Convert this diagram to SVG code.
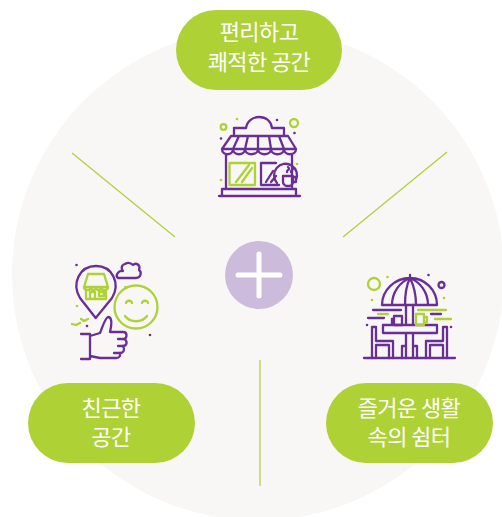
<svg xmlns="http://www.w3.org/2000/svg" width="502" height="517" viewBox="0 0 502 517">
<style>
.p{fill:none;stroke:#6a2f96;stroke-width:2.300;stroke-linecap:round;stroke-linejoin:round}
.g{fill:none;stroke:#aed136;stroke-width:2.300;stroke-linecap:round;stroke-linejoin:round}
.dp{fill:#6a2f96}.dg{fill:#aed136}
.pill{fill:#aed136}
.t{fill:#fff;font-family:"Noto Sans CJK KR","Noto Sans",sans-serif;font-size:22px;text-anchor:middle;letter-spacing:-.6px}
.c{stroke:#aed136;stroke-width:1.200;fill:none}
</style>
<circle cx="258" cy="274.500" r="246" fill="#f8f7f5"/>
<g id="connectors">
<line class="c" x1="72" y1="153" x2="175" y2="237"/>
<line class="c" x1="447" y1="152" x2="343" y2="237"/>
<line class="c" x1="260" y1="360" x2="260" y2="486"/>
</g>
<g id="center-plus">
<circle cx="259" cy="275" r="34" fill="#cdbbdb"/>
<path d="M259 254V296M238 275H280" stroke="#fff" stroke-width="5" stroke-linecap="round" fill="none"/>
</g>
<g id="node-top">
<rect class="pill" x="176" y="10" width="166" height="80" rx="40"/>
<text class="t" x="259" y="40">편리하고</text>
<text class="t" x="259" y="70">쾌적한 공간</text>
</g>
<g id="icon-store">
<path class="p" d="M219 196H300M222 196V189H296V196M226 189V155M292 189V155"/>
<path class="p" d="M234 135V128H246C247 121 253 117 259 117C266 117 271 121 272 128H284V135"/>
<path class="p" d="M231 136H288L296 149C296 156 284 156 284 149C284 156 271 156 271 149C271 156 258 156 258 149C258 156 245 156 245 149C245 156 233 156 233 149C233 156 222 156 222 149ZM222 149H296M233 149L239 136M245 149L248 136M258 149V136M271 149L269 136M284 149L279 136"/>
<path class="g" d="M229.500 163H255V185H229.500ZM236 182L249 165M242 182L252 168"/>
<path class="p" d="M261 163V185H279M261 163H276M266 182L273 171M271 182L276 176"/>
<path class="p" d="M277 183A11.500 11.500 0 1 1 296 180"/>
<path class="p" d="M283 176H293V182C293 184 291 186 289 186H287C285 186 283 184 283 182ZM293 177H296V182H293M287 172C286 170 291 170 288 167M291 172C290 170 295 170 292 167"/>
<circle class="g" cx="223.500" cy="127" r="2.800"/>
<circle class="g" cx="294" cy="123" r="4"/>
<circle class="dg" cx="237" cy="119" r="1.300"/><circle class="dp" cx="277" cy="120" r="1.300"/><circle class="dp" cx="294.500" cy="133" r="1.300"/><circle class="dp" cx="221" cy="138.500" r="1.300"/><circle class="dg" cx="297" cy="164" r="1.300"/><circle class="dg" cx="221" cy="180" r="1.300"/>
</g>
<g id="icon-friendly">
<path class="p" d="M95.700 318L80 298C71 283 80 266 96 266C112 266 121 283 112 298Z"/>
<path class="g" d="M84 287L88 274H104L108 287C108 291 101 291 101 287C101 291 96 291 96 287C96 291 91 291 91 287C91 291 84 291 84 287ZM84 287H108M86 291V299H106V291M90 299V292H95V299M99 292H104V296H99Z"/>
<path class="p" d="M118 278H136C141 278 142 272 139 270C141 265 136 262 133 265C131 263 128 262 125 264C121 265 121 269 123 271C118 270 115 276 118 278Z"/>
<circle class="g" cx="136" cy="307" r="21.500"/>
<path class="g" d="M126 303C127 300 131 300 132 303M142 303C143 300 147 300 148 303M125 316C130 323 142 323 147 316"/>
<path class="g" d="M72 324L76 325L80 323M81 319L84 321L88 319"/>
<path class="p" d="M81 334H90V359H81M90 336L100 333C103 326 105 318 108 317C112 317 112 323 110 332H123C128 332 127 338 124 339C128 341 127 346 123 346C125 349 124 353 120 353C121 357 118 358 116 358H100L90 356"/>
<path class="p" d="M118 339H124M118 346H123M114 353H120"/>
<circle class="dp" cx="76.500" cy="265" r="1.300"/><circle class="dg" cx="125.500" cy="287" r="1.300"/><circle class="dg" cx="77" cy="306" r="1.300"/><circle class="dp" cx="87" cy="326" r="1.300"/><circle class="dp" cx="150" cy="335" r="1.300"/>
</g>
<g id="icon-terrace">
<path class="p" d="M364 358H455M382 305H437C437 290 425 278 410 278C395 278 382 290 382 305ZM410 278V275M392 305C392 292 400 282 410 278C420 282 428 292 428 305M405 305C405 292 407 284 410 278C413 284 416 292 416 305"/>
<path class="p" d="M406 305V325M413 305V325M383 325H437V333H383ZM406 333V358M413 333V358M402 358V346H406M413 346H417V358"/>
<path class="p" d="M372 358V327H376V341H393V358M389 358V345H376M376 358V345M447 358V327H443V341H426V358M430 358V345H443M443 358V345"/>
<path class="p" d="M394 316H402V325H394ZM394 319H392V324H394M373 310H401M368 318H384"/>
<path class="g" d="M416 314H424V325H416ZM424 317H427V322H424M418 310H446M378 314H388M435 319H451"/>
<path class="p" d="M431 314H441"/>
<circle class="g" cx="374" cy="284" r="6"/>
<circle class="p" cx="441.500" cy="285" r="3"/>
<circle class="dg" cx="387.500" cy="277" r="1.300"/><circle class="dp" cx="428.500" cy="275" r="1.300"/><circle class="dg" cx="444" cy="298" r="1.300"/><circle class="dg" cx="372" cy="300" r="1.300"/><circle class="dp" cx="367" cy="325" r="1.300"/><circle class="dp" cx="451" cy="327" r="1.300"/>
</g>
<g id="node-left">
<rect class="pill" x="28" y="383" width="167" height="80" rx="40"/>
<text class="t" x="111" y="416">친근한</text>
<text class="t" x="111" y="445">공간</text>
</g>
<g id="node-right">
<rect class="pill" x="326" y="383" width="167" height="80" rx="40"/>
<text class="t" x="409" y="416">즐거운 생활</text>
<text class="t" x="409" y="445">속의 쉼터</text>
</g>
</svg>
